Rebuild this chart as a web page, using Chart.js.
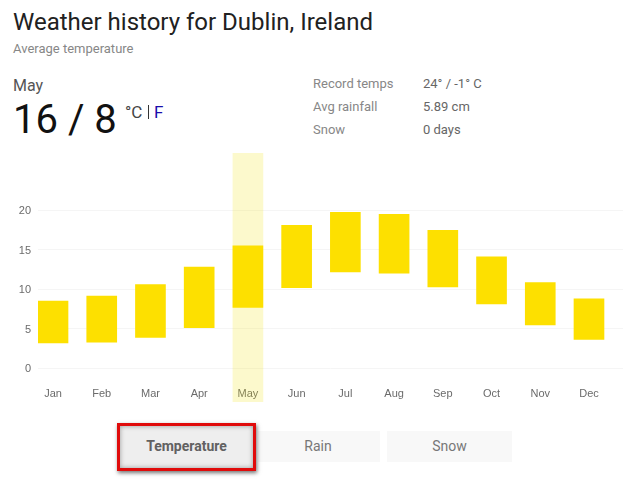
<!DOCTYPE html>
<html>
<head>
<meta charset="utf-8">
<script src="https://cdn.jsdelivr.net/npm/chart.js@4"></script>
<style>
html,body{margin:0;padding:0;background:#fff;width:625px;height:486px;overflow:hidden;font-family:Roboto,sans-serif}
.t{position:absolute;white-space:nowrap;line-height:1}
#c{position:absolute;left:0;top:153px}
.b{position:absolute;box-sizing:border-box;display:flex;align-items:center;justify-content:center;font:14px Roboto,sans-serif;color:#777;background:#f8f8f8;padding-bottom:2px}
</style>
</head>
<body>
<div class="t" style="left:13px;top:10px;font-size:24px;color:#212121">Weather history for Dublin, Ireland</div>
<div class="t" style="left:13px;top:42px;font-size:13px;color:#878787">Average temperature</div>
<div class="t" style="left:13px;top:78px;font-size:16px;color:#555">May</div>
<div class="t" style="left:13px;top:100px;font-size:40px;color:#111">16 / 8</div>
<div class="t" style="left:125px;top:104px;font-size:17px;color:#444">°C</div>
<div style="position:absolute;left:148px;top:105px;width:1px;height:14px;background:#333"></div>
<div class="t" style="left:154px;top:104px;font-size:17px;color:#1a0dab">F</div>
<div class="t" style="left:313px;top:77px;font-size:13px;color:#878787">Record temps</div>
<div class="t" style="left:313px;top:100px;font-size:13px;color:#878787">Avg rainfall</div>
<div class="t" style="left:313px;top:123px;font-size:13px;color:#878787">Snow</div>
<div class="t" style="left:423px;top:77px;font-size:13px;color:#666">24° / -1° C</div>
<div class="t" style="left:423px;top:100px;font-size:13px;color:#666">5.89 cm</div>
<div class="t" style="left:423px;top:123px;font-size:13px;color:#666">0 days</div>
<canvas id="c" width="623" height="249" style="width:623px;height:249px"></canvas>
<div class="b" style="left:258px;top:431px;width:122px;height:31px;padding-right:2px">Rain</div>
<div class="b" style="left:387px;top:431px;width:125px;height:31px">Snow</div>
<div class="b" style="left:117px;top:423px;width:139px;height:48px;border:3px solid #e00b0b;background:#eeeeee;font-weight:700;color:#616161;box-shadow:1px 2px 4px rgba(0,0,0,.55),inset 0 0 5px rgba(0,0,0,.35)">Temperature</div>
<script>
const months = ["Jan","Feb","Mar","Apr","May","Jun","Jul","Aug","Sep","Oct","Nov","Dec"];
const highs = [8.5,9.15,10.6,12.8,15.5,18.1,19.75,19.5,17.45,14.1,10.85,8.8];
const lows = [3.2,3.3,3.9,5.15,7.7,10.2,12.2,12.05,10.3,8.15,5.5,3.65];
const yTicks = [0,5,10,15,20];
const selectedMonth = "May";
const yMin = -4.27, yMax = 27.25;
const xMin = -0.308, xMax = 11.698;

const tickFont = {family:"'Liberation Sans',Arial,sans-serif", size:11};
new Chart(document.getElementById('c'), {
  type:'bar',
  data:{
    datasets:[
      {
        data: months.map((m,i)=>({x:i,y:[lows[i],highs[i]]})),
        backgroundColor:'#fde000', barThickness:30, grouped:false, order:1
      },
      {
        data: months.map((m,i)=>m===selectedMonth?{x:i,y:[yMin,yMax]}:null).filter(Boolean),
        backgroundColor:'rgba(240,225,0,0.2)', barThickness:30, grouped:false, order:2
      }
    ]
  },
  options:{
    responsive:false, animation:false,
    layout:{padding:0},
    plugins:{legend:{display:false},tooltip:{enabled:false}},
    scales:{
      x:{
        type:'linear', min:xMin, max:xMax, offset:false,
        grid:{display:false}, border:{display:false},
        afterBuildTicks(s){ s.ticks = months.map((m,i)=>({value:i})); },
        afterFit(s){ s.height = 0; s.paddingLeft = 0; s.paddingRight = 0; },
        ticks:{
          autoSkip:false, maxRotation:0, minRotation:0, padding:1.4, mirror:true,
          color:'#6b6b6b', font:tickFont,
          callback:(v)=>months[v]
        }
      },
      y:{
        min:yMin, max:yMax,
        grid:{color:'#f5f5f5', lineWidth:1, drawTicks:false}, border:{display:false},
        afterBuildTicks(s){ s.ticks = yTicks.map(v=>({value:v})); },
        afterFit(s){ s.width = 38; s.paddingTop = 0; s.paddingBottom = 0; },
        ticks:{padding:7, labelOffset:1, color:'#6b6b6b', font:tickFont}
      }
    }
  }
});
</script>
</body>
</html>
